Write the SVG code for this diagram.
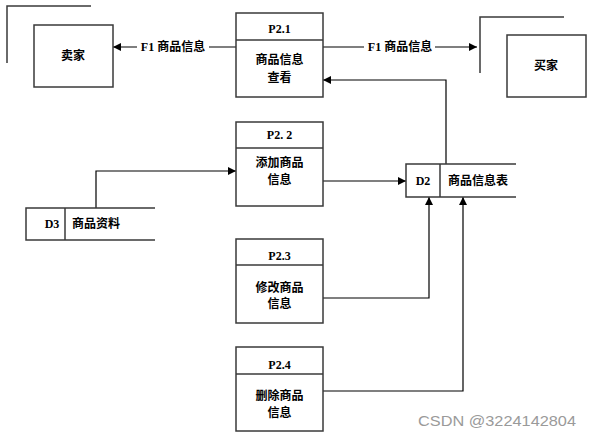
<svg xmlns="http://www.w3.org/2000/svg" width="592" height="437" viewBox="0 0 592 437">
<defs>
<marker id="arr" viewBox="0 0 10 10" refX="10" refY="5" markerWidth="15" markerHeight="8" markerUnits="userSpaceOnUse" orient="auto">
<path d="M0,0 L10,5 L0,10 z" fill="#000"/>
</marker>
<style>
.box{fill:#fff;stroke:#3a3a3a;stroke-width:1.5}
.ln{fill:none;stroke:#3a3a3a;stroke-width:1.5}
.con{fill:none;stroke:#000;stroke-width:1.2}
.t{font-family:"Liberation Serif","Noto Sans CJK SC",serif;font-size:12px;font-weight:bold;fill:#000;text-anchor:middle}
.wm{font-family:"Liberation Sans","DejaVu Sans",sans-serif;font-size:15px;fill:#9a9a9a}
</style>
</defs>
<rect width="592" height="437" fill="#fff"/>
<g id="connectors">
<path class="con" d="M236,47 L113,47" marker-end="url(#arr)"/>
<path class="con" d="M323,47 L477,47" marker-end="url(#arr)"/>
<path class="con" d="M446,164 L446,80 L323,80" marker-end="url(#arr)"/>
<path class="con" d="M96,208 L96,171 L236,171" marker-end="url(#arr)"/>
<path class="con" d="M323,181 L406,181" marker-end="url(#arr)"/>
<path class="con" d="M323,298 L429,298 L429,197" marker-end="url(#arr)"/>
<path class="con" d="M323,391 L463,391 L463,197" marker-end="url(#arr)"/>
<rect x="137" y="39" width="72" height="15" fill="#fff"/>
<text class="t" x="173" y="51">F1 商品信息</text>
<rect x="364" y="39" width="71" height="15" fill="#fff"/>
<text class="t" x="400" y="51">F1 商品信息</text>
</g>
<g id="seller">
<path class="ln" d="M91,6 L7,6 L7,63"/>
<rect class="box" x="34" y="25" width="79" height="62"/>
<text class="t" x="73" y="60">卖家</text>
</g>
<g id="buyer">
<path class="ln" d="M564,17 L480,17 L480,73"/>
<rect class="box" x="507" y="35" width="79" height="62"/>
<text class="t" x="546" y="70">买家</text>
</g>
<g id="p21">
<rect class="box" x="236" y="13" width="87" height="84"/>
<line class="ln" x1="236" y1="40" x2="323" y2="40"/>
<text class="t" x="279.5" y="33">P2.1</text>
<text class="t" x="279.5" y="64">商品信息</text>
<text class="t" x="279.5" y="82">查看</text>
</g>
<g id="p22">
<rect class="box" x="236" y="122" width="87" height="84"/>
<line class="ln" x1="236" y1="148" x2="323" y2="148"/>
<text class="t" x="279.5" y="139">P2. 2</text>
<text class="t" x="279.5" y="167">添加商品</text>
<text class="t" x="279.5" y="184">信息</text>
</g>
<g id="p23">
<rect class="box" x="236" y="239" width="87" height="84"/>
<line class="ln" x1="236" y1="265" x2="323" y2="265"/>
<text class="t" x="279.5" y="260">P2.3</text>
<text class="t" x="279.5" y="292">修改商品</text>
<text class="t" x="279.5" y="308">信息</text>
</g>
<g id="p24">
<rect class="box" x="236" y="347" width="87" height="84"/>
<line class="ln" x1="236" y1="374" x2="323" y2="374"/>
<text class="t" x="279.5" y="369">P2.4</text>
<text class="t" x="279.5" y="400">删除商品</text>
<text class="t" x="279.5" y="417">信息</text>
</g>
<g id="d3">
<path class="ln" d="M155,208 L26,208 L26,240 L155,240"/>
<line class="ln" x1="65" y1="208" x2="65" y2="240"/>
<text class="t" x="52" y="228">D3</text>
<text class="t" x="96" y="228">商品资料</text>
</g>
<g id="d2">
<path class="ln" d="M516,164 L406,164 L406,197 L516,197"/>
<line class="ln" x1="440" y1="164" x2="440" y2="197"/>
<text class="t" x="423" y="185">D2</text>
<text class="t" x="478" y="185">商品信息表</text>
</g>
<text class="wm" x="418" y="426" textLength="158" lengthAdjust="spacingAndGlyphs">CSDN @3224142804</text>
</svg>
